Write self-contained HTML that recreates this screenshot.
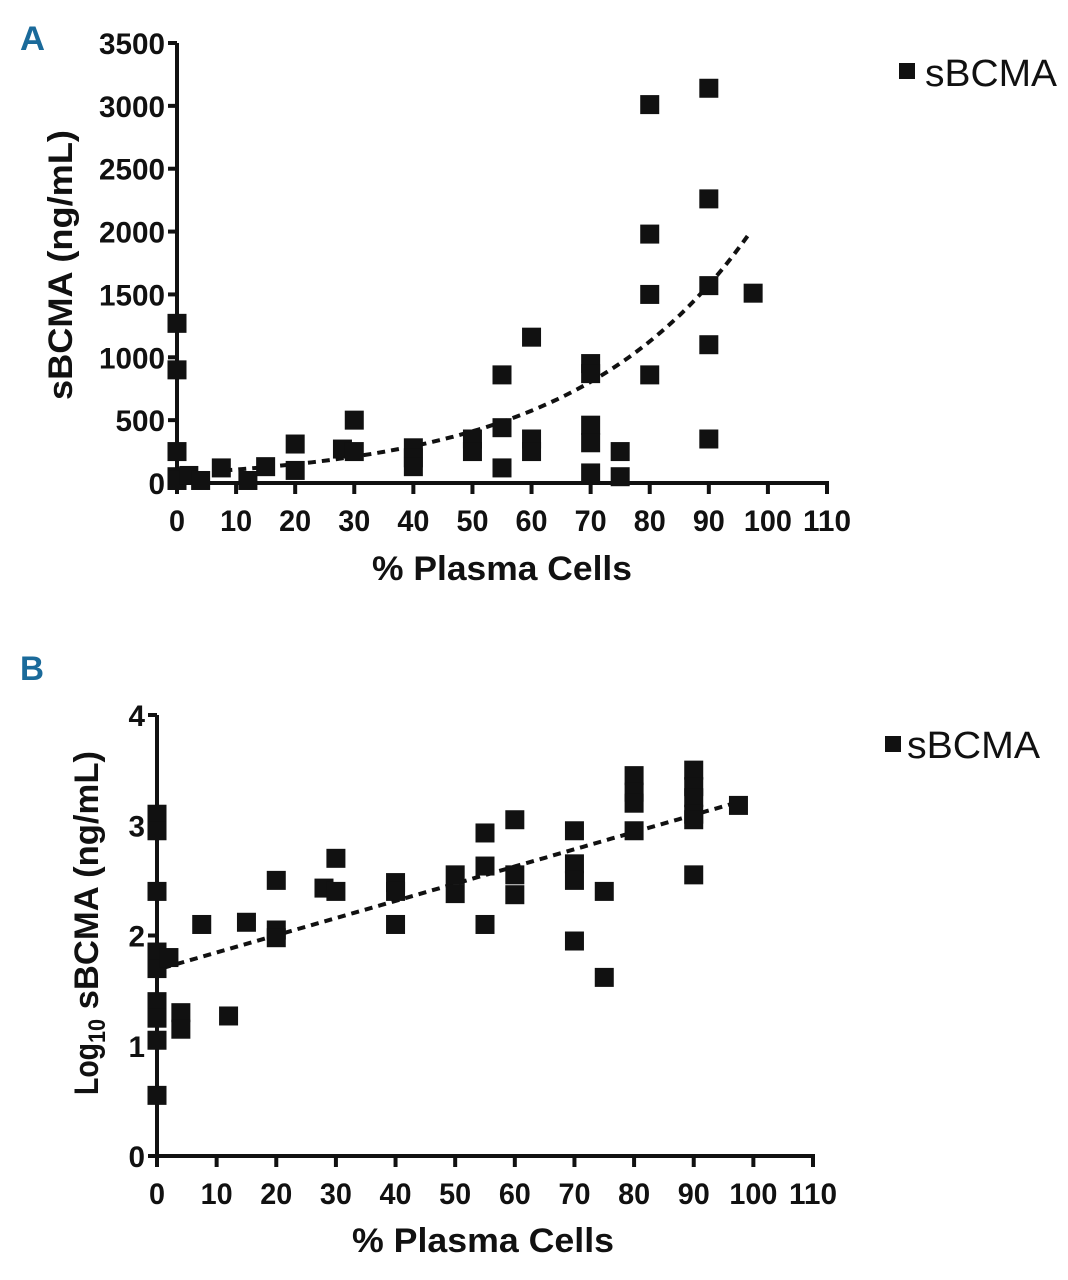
<!DOCTYPE html>
<html><head><meta charset="utf-8"><style>
html,body{margin:0;padding:0;background:#fff;width:1068px;height:1280px;overflow:hidden}
svg{display:block}
.tk{font-family:"Liberation Sans",sans-serif;font-weight:bold;font-size:30px;fill:#111}
.tt{font-family:"Liberation Sans",sans-serif;font-weight:bold;font-size:34px;fill:#111}
.lg{font-family:"Liberation Sans",sans-serif;font-size:38px;fill:#111}
.pl{font-family:"Liberation Sans",sans-serif;font-weight:bold;font-size:34px;fill:#1a6a9a}
</style></head><body>
<svg id="s" width="1068" height="1280" viewBox="0 0 1068 1280">
<text class="pl" x="20" y="50" textLength="25" lengthAdjust="spacingAndGlyphs">A</text>
<text class="pl" x="20" y="680" textLength="24" lengthAdjust="spacingAndGlyphs">B</text>
<g><rect x="899" y="63" width="16" height="16" fill="#111"/><text class="lg" x="925" y="86" textLength="132" lengthAdjust="spacingAndGlyphs">sBCMA</text></g>
<g><rect x="885" y="736" width="16" height="16" fill="#111"/><text class="lg" x="907" y="758" textLength="133" lengthAdjust="spacingAndGlyphs">sBCMA</text></g>
<text class="tt" x="372" y="580" textLength="260" lengthAdjust="spacingAndGlyphs">% Plasma Cells</text>
<text class="tt" x="352" y="1252" textLength="262" lengthAdjust="spacingAndGlyphs">% Plasma Cells</text>
<text class="tt" transform="translate(72,400) rotate(-90)" textLength="270" lengthAdjust="spacingAndGlyphs">sBCMA  (ng/mL)</text>
<text class="tt" transform="translate(98,1095) rotate(-90)"><tspan textLength="52" lengthAdjust="spacingAndGlyphs">Log</tspan><tspan font-size="24" dy="7" textLength="24" lengthAdjust="spacingAndGlyphs">10</tspan><tspan dy="-7" textLength="268" lengthAdjust="spacingAndGlyphs"> sBCMA  (ng/mL)</tspan></text>
</svg>
<script>
const xTicks=[0,10,20,30,40,50,60,70,80,90,100,110];
const yTicksA=[0,500,1000,1500,2000,2500,3000,3500];
const yTicksB=[0,1,2,3,4];
const pctA=[0,0,0,0,0,2,4,7.5,12,15,20,20,28,30,30,40,40,40,50,50,55,55,55,60,60,60,70,70,70,70,70,75,75,80,80,80,80,90,90,90,90,90,97.5];
const valA=[1270,900,250,50,20,60,20,120,20,130,310,100,270,500,250,280,200,130,350,250,860,440,120,1160,350,250,950,870,460,320,80,250,50,3010,1980,1500,860,3140,2260,1570,1100,350,1510];
const fitA=[76.6,0.0336];
const fitRangeA=[8,97];
const pctB=[0,0,0,0,0,0,0,0,0,2,4,4,7.5,12,15,20,20,20,28,30,30,40,40,40,50,50,55,55,55,60,60,60,70,70,70,70,75,75,80,80,80,80,90,90,90,90,90,90,97.5];
const valB=[3.1,2.95,2.4,1.85,1.7,1.4,1.25,1.05,0.55,1.8,1.3,1.15,2.1,1.27,2.12,2.5,2.05,1.98,2.43,2.7,2.4,2.48,2.4,2.1,2.55,2.38,2.93,2.63,2.1,3.05,2.55,2.37,2.95,2.65,2.5,1.95,2.4,1.62,3.45,3.3,3.2,2.95,3.5,3.35,3.25,3.1,3.05,2.55,3.18];
const fitB=[1.69,0.0156];
const fitRangeB=[1,97];
const NS='http://www.w3.org/2000/svg';
const svg=document.getElementById('s');
function mk(t,a,p){const e=document.createElementNS(NS,t);for(const k in a)e.setAttribute(k,a[k]);(p||svg).appendChild(e);return e;}
function panel(P){
  const sx=v=>P.x0+(v/110)*(P.x1-P.x0);
  const sy=v=>P.y0-(v/P.ymax)*(P.y0-P.y1);
  const g=mk('g',{});
  
  
  mk('line',{x1:P.x0,y1:P.y1,x2:P.x0,y2:P.y0+2,stroke:'#111','stroke-width':4},g);
  mk('line',{x1:P.x0-2,y1:P.y0,x2:P.x1+2,y2:P.y0,stroke:'#111','stroke-width':4},g);
  P.yt.forEach(v=>{
    mk('line',{x1:P.x0-9,y1:sy(v),x2:P.x0,y2:sy(v),stroke:'#111','stroke-width':4},g);
    const s=String(v);
    const t=mk('text',{x:P.x0-12,y:sy(v)+11,'text-anchor':'end',class:'tk',textLength:s.length*16.5,lengthAdjust:'spacingAndGlyphs'},g);
    
    
    t.textContent=s;
  });
  xTicks.forEach(v=>{
    mk('line',{x1:sx(v),y1:P.y0,x2:sx(v),y2:P.y0+11,stroke:'#111','stroke-width':4},g);
    const s=String(v);
    const t=mk('text',{x:sx(v),y:P.y0+48,'text-anchor':'middle',class:'tk',textLength:s.length*16,lengthAdjust:'spacingAndGlyphs'},g);
    
    
    t.textContent=s;
  });
  let d='';
  for(let i=0;i<=60;i++){const x=P.fr[0]+(P.fr[1]-P.fr[0])*i/60;d+=(i?'L':'M')+sx(x).toFixed(1)+','+sy(P.fit(x)).toFixed(1);}
  const tl=mk('path',{d:d,fill:'none',stroke:'#111','stroke-width':4,'stroke-dasharray':'8,6'},g);
  
  
  P.xs.forEach((x,i)=>{
    const r=mk('rect',{x:sx(x)-9.5,y:sy(P.ys[i])-9.5,width:19,height:19,fill:'#111'},g);
    
    
  });
}
panel({name:'plot-a',x0:177,x1:827,y0:483,y1:43,ymax:3500,yt:yTicksA,xs:pctA,ys:valA,fr:fitRangeA,fit:x=>fitA[0]*Math.exp(fitA[1]*x)});
panel({name:'plot-b',x0:157,x1:813,y0:1156,y1:715,ymax:4,yt:yTicksB,xs:pctB,ys:valB,fr:fitRangeB,fit:x=>fitB[0]+fitB[1]*x});
</script>
</body></html>
